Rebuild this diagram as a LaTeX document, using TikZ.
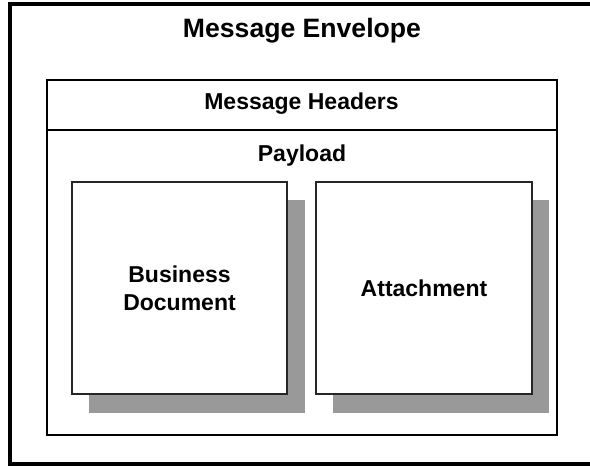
\documentclass[tikz,border=0pt]{standalone}
\usepackage{fontspec}
\setmainfont{Liberation Sans}
\begin{document}
\begin{tikzpicture}[x=1pt,y=-1pt,
  lbl/.style={font=\bfseries\fontsize{23}{27}\selectfont, align=center, inner sep=0pt},
  frame/.style={draw=black, line width=2pt},
  docbox/.style={draw=black!85, line width=1.6pt, fill=white},
  shadowbox/.style={fill=black!40, draw=none}]
\useasboundingbox (0,0) rectangle (590,466);
\begin{scope}
\clip (0,0) rectangle (590,466);
\draw[line width=3.5pt] (10,4) rectangle (600,464);
\end{scope}
\node[lbl, font=\bfseries\fontsize{26.6}{30}\selectfont] (title) at (302,31) {Message Envelope};
\draw[frame] (46.5,80) rectangle (556.5,129.5);
\node[lbl] (headers) at (301.5,104) {Message Headers};
\draw[frame] (46.5,129.5) rectangle (556.5,435);
\node[lbl] (payload) at (302,156) {Payload};
% shadows
\fill[shadowbox] (89,200) rectangle (305,413);
\fill[shadowbox] (333,200) rectangle (549,413);
% boxes
\draw[docbox] (72,182) rectangle (287,394);
\draw[docbox] (316,182) rectangle (532,394);
\node[lbl] (business) at (179.5,288) {Business\\[1pt]Document};
\node[lbl] (attach) at (424,288) {Attachment};
\end{tikzpicture}
\end{document}
